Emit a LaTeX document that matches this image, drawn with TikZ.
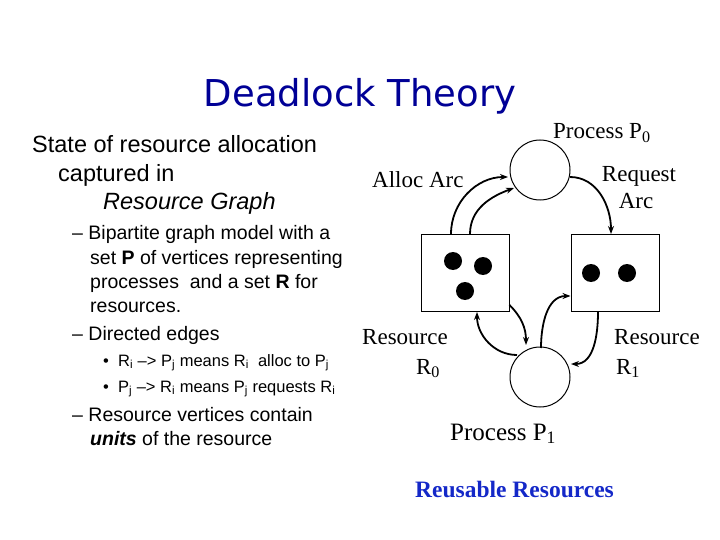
\documentclass[tikz,border=0pt]{standalone}
\usepackage{fontspec}
\setmainfont{Liberation Serif}
\newfontfamily\arial{Liberation Sans}
\newfontfamily\titlef{DejaVu Sans}
\usetikzlibrary{arrows.meta}
\begin{document}
\begin{tikzpicture}[x=1pt,y=-1pt,
  txt/.style={inner sep=0pt,anchor=base west,font=\arial\fontsize{23.5}{26}\selectfont},
  sub/.style={inner sep=0pt,anchor=base west,font=\arial\fontsize{19.5}{22}\selectfont},
  subsub/.style={inner sep=0pt,anchor=base west,font=\arial\fontsize{16.5}{18}\selectfont},
  lab/.style={inner sep=0pt,anchor=base,font=\fontsize{23}{26}\selectfont},
  proc/.style={draw,line width=1pt,circle,minimum size=60pt,inner sep=0pt},
  res/.style={draw,line width=1pt,minimum width=88pt,minimum height=77pt,inner sep=0pt},
  dot/.style={fill=black,circle,minimum size=18pt,inner sep=0pt},
  arc/.style={line width=1.8pt,-{Stealth[length=8pt,width=6pt]}}]
\useasboundingbox (0,0) rectangle (720,540);
\node[inner sep=0pt,anchor=base,font=\titlef\fontsize{37}{40}\selectfont,text={rgb,255:red,0;green,0;blue,150}] (title) at (360,107) {Deadlock Theory};
\node[txt] (t1) at (32,153) {State of resource allocation};
\node[txt] (t2) at (58,182) {captured in};
\node[txt,font=\arial\itshape\fontsize{23.5}{26}\selectfont] (t3) at (103,210) {Resource Graph};
\node[sub] (b1) at (72,240) {– Bipartite graph model with a};
\node[sub] (b2) at (90,264) {set \textbf{P} of vertices representing};
\node[sub] (b3) at (90,288) {processes \ and a set \textbf{R} for};
\node[sub] (b4) at (90,312) {resources.};
\node[sub] (b5) at (72,340) {– Directed edges};
\node[subsub] (c1) at (103,366) {•\ \ R\textsubscript{i} –> P\textsubscript{j} means R\textsubscript{i} \ alloc to P\textsubscript{j}};
\node[subsub] (c2) at (103,392) {•\ \ P\textsubscript{j} –> R\textsubscript{i} means P\textsubscript{j} requests R\textsubscript{i}};
\node[sub] (b6) at (72,421) {– Resource vertices contain};
\node[sub] (b7) at (90,445) {\textbf{\itshape units} of the resource};

\node[proc] (P0) at (540,170) {};
\node[proc] (P1) at (540,377) {};
\node[res] (R0) at (465,273) {};
\node[res] (R1) at (615,273) {};
\node[dot] (d1) at (453,261) {};
\node[dot] (d2) at (483,266) {};
\node[dot] (d3) at (465,291) {};
\node[dot] (d4) at (591,273) {};
\node[dot] (d5) at (627,273) {};

\node[lab,anchor=base west] (lp0) at (553,139) {Process P\textsubscript{0}};
\node[lab,anchor=base west] (la) at (372,188) {Alloc Arc};
\node[lab] (lr) at (639,182) {Request};
\node[lab] (lr2) at (636,209) {Arc};
\node[lab] (lr0) at (405,344) {Resource};
\node[lab] (lr02) at (428,374) {R\textsubscript{0}};
\node[lab] (lr1) at (657,344) {Resource};
\node[lab] (lr12) at (628,374) {R\textsubscript{1}};
\node[lab,anchor=base west,font=\fontsize{25}{28}\selectfont] (lp1) at (450,440) {Process P\textsubscript{1}};
\node[inner sep=0pt,anchor=base west,font=\bfseries\fontsize{23.5}{26}\selectfont,text={rgb,255:red,20;green,40;blue,200}] (rr) at (415,497) {Reusable Resources};

\draw[arc] ([xshift=-14pt]R0.north) to[out=90,in=180] ([shift={(-32pt,-7pt)}]P0.center);
\draw[arc] ([xshift=5pt]R0.north) to[out=90,in=200] ([shift={(-26pt,-18pt)}]P0.center);
\draw[arc] ([shift={(30pt,-7pt)}]P0.center) to[out=0,in=90] ([xshift=-4pt]R1.north);
\draw[arc] ([shift={(-0pt,7pt)}]R0.south east) to[out=-45,in=90] ([shift={(-14pt,32pt)}]P1.center);
\draw[arc] ([shift={(-23pt,22pt)}]P1.center) to[out=180,in=-90] ([xshift=12pt]R0.south);
\draw[arc] ([shift={(1pt,29pt)}]P1.center) to[out=90,in=180] ([yshift=-23pt]R1.west);
\draw[arc] ([xshift=-17pt]R1.south) to[out=-90,in=0] ([shift={(31pt,13pt)}]P1.center);
\end{tikzpicture}
\end{document}
